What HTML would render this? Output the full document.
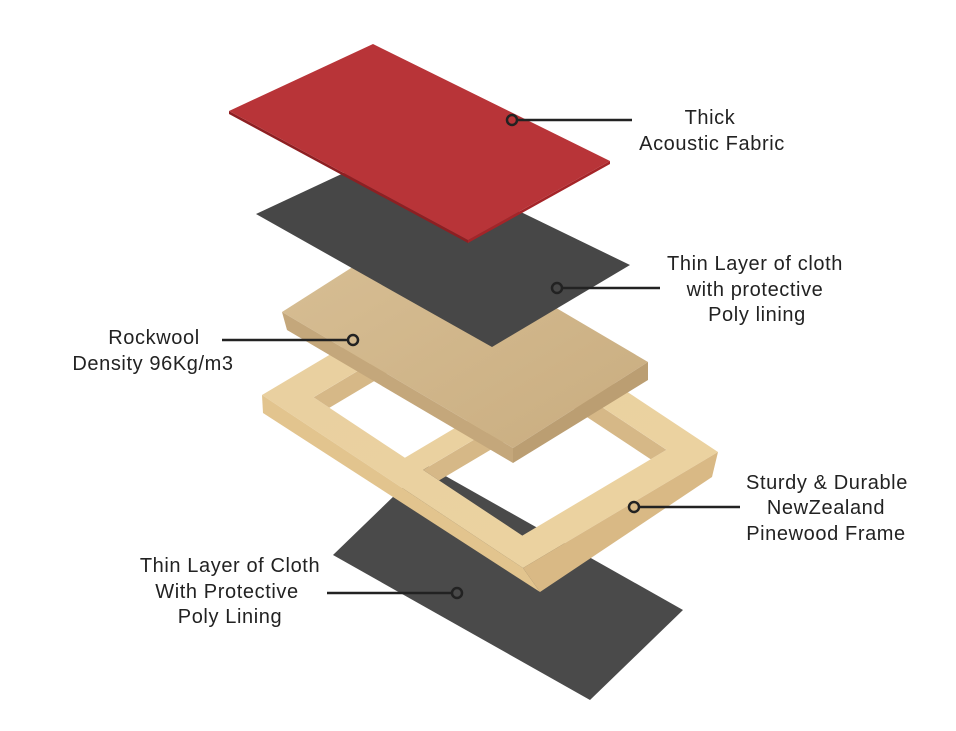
<!DOCTYPE html>
<html><head><meta charset="utf-8"><style>
html,body{margin:0;padding:0;background:#fff;}
svg{display:block}
text{font-family:"Liberation Sans",sans-serif;font-size:20px;letter-spacing:0.6px;fill:#222;text-anchor:middle}
</style></head><body>
<svg width="956" height="731" viewBox="0 0 956 731" xmlns="http://www.w3.org/2000/svg">
<defs>
<linearGradient id="wood" x1="0" y1="0" x2="1" y2="1"><stop offset="0" stop-color="#e8cfa0"/><stop offset="1" stop-color="#ecd3a0"/></linearGradient>
<linearGradient id="rw" x1="0" y1="0" x2="1" y2="1"><stop offset="0" stop-color="#d8bf95"/><stop offset="1" stop-color="#c9ad80"/></linearGradient>
<clipPath id="h1"><polygon points="313.5,397.2 404.9,457.8 549.2,372 457.8,311.4"/></clipPath>
<clipPath id="h2"><polygon points="423.1,469.9 522.3,535.6 666.6,449.8 567.4,384.1"/></clipPath>
</defs>
<polygon points="426,465 683,610 590,700 333,555" fill="#4a4a4a"/>
<path fill-rule="evenodd" fill="url(#wood)" d="M262,395 L457,279 L718,452 L523,568 Z M313.5,397.2 L404.9,457.8 L549.2,372 L457.8,311.4 Z M423.1,469.9 L522.3,535.6 L666.6,449.8 L567.4,384.1 Z"/>
<polygon points="262,395 523,568 540,592 263,413" fill="#e2c48e"/>
<polygon points="523,568 718,452 712,477 540,592" fill="#d9b985"/>
<g clip-path="url(#h1)" fill="#d6b887">
<polygon points="313.5,397.2 457.8,311.4 549.2,372 549.2,392 457.8,331.4 313.5,417.2"/>
</g>
<g clip-path="url(#h2)" fill="#d6b887">
<polygon points="423.1,469.9 567.4,384.1 666.6,449.8 666.6,469.8 567.4,404.1 423.1,489.9"/>
</g>
<polygon points="417,226 648,362 513,448 282,312" fill="url(#rw)"/>
<polygon points="282,312 513,448 513,463 287,330" fill="#c4a77b"/>
<polygon points="513,448 648,362 648,380 513,463" fill="#bb9e72"/>
<polygon points="393,150 630,265 492,347 256,214" fill="#474747"/>
<polygon points="229,111 468,240 468,243 229,114" fill="#8e1f22"/>
<polygon points="468,240 610,161 610,164 468,243" fill="#a52428"/>
<polygon points="373,44 610,161 468,240 229,111" fill="#b83438"/>
<g stroke="#222" stroke-width="2.5" fill="none">
<line x1="517" y1="120" x2="632" y2="120"/>
<line x1="562" y1="288" x2="660" y2="288"/>
<line x1="222" y1="340" x2="348" y2="340"/>
<line x1="639" y1="507" x2="740" y2="507"/>
<line x1="327" y1="593" x2="452" y2="593"/>
<circle cx="512" cy="120" r="5"/><circle cx="557" cy="288" r="5"/><circle cx="353" cy="340" r="5"/><circle cx="634" cy="507" r="5"/><circle cx="457" cy="593" r="5"/>
</g>
<text x="710" y="124">Thick</text>
<text x="712" y="150">Acoustic Fabric</text>
<text x="755" y="270">Thin Layer of cloth</text>
<text x="755" y="296">with protective</text>
<text x="757" y="321">Poly lining</text>
<text x="154" y="344">Rockwool</text>
<text x="153" y="370">Density 96Kg/m3</text>
<text x="827" y="489">Sturdy &amp; Durable</text>
<text x="826" y="514">NewZealand</text>
<text x="826" y="540">Pinewood Frame</text>
<text x="230" y="572">Thin Layer of Cloth</text>
<text x="227" y="598">With Protective</text>
<text x="230" y="623">Poly Lining</text>
</svg>
</body></html>
